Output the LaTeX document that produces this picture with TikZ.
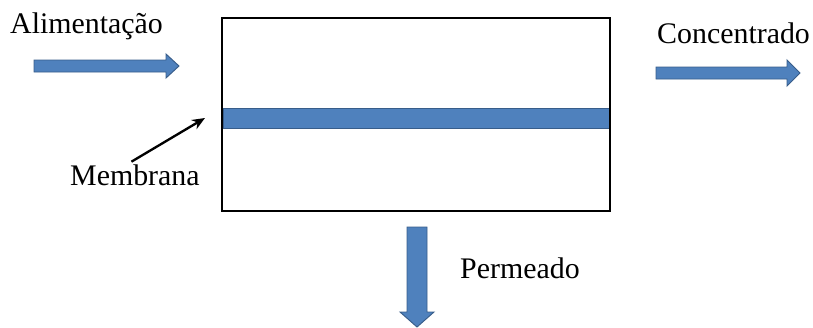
\documentclass[tikz,border=0pt]{standalone}
\usepackage{fontspec}
\setmainfont{Liberation Serif}
\usetikzlibrary{arrows.meta,positioning}
\definecolor{azulmemb}{HTML}{4F81BD}
\definecolor{bordamemb}{HTML}{385D8A}
\tikzset{
  rotulo/.style={inner sep=0pt,anchor=base west,font=\fontsize{25.5}{30}\selectfont},
  fluxo/.style={fill=azulmemb,draw=bordamemb,line width=0.8pt,line join=miter}
}
\begin{document}
\begin{tikzpicture}[x=0.03cm,y=-0.03cm]
\useasboundingbox (0,0) rectangle (813,327);
% membrana e modulo
\node[fluxo,minimum width=11.61cm,minimum height=0.6cm,inner sep=0pt] (membrana) at (416.5,118.5){};
\node[draw=black,line width=1.6pt,minimum width=11.64cm,minimum height=5.79cm,inner sep=0pt] (modulo) at (416,114.5){};
% setas de fluxo
\draw[fluxo] (34,60) -- (166,60) -- (166,54) -- (179,66) -- (166,78) -- (166,72) -- (34,72) -- cycle;
\draw[fluxo] (656,67) -- (787,67) -- (787,60) -- (800,73) -- (787,86) -- (787,79) -- (656,79) -- cycle;
\draw[fluxo] (407,227) -- (427,227) -- (427,312) -- (434,312) -- (417,327) -- (400,312) -- (407,312) -- cycle;
% rotulos
\node[rotulo] (alim) at (10,33){Alimenta\c{c}\~ao};
\node[rotulo] (conc) at (657,43){Concentrado};
\node[rotulo] (txtmemb) at (70,185){Membrana};
\node[rotulo] (perm) at (460,278){Permeado};
\coordinate (pontamemb) at (205,118);
\draw[-{Stealth[length=11pt,width=9pt]},line width=2pt] ([xshift=-3pt,yshift=2pt]txtmemb.north) -- (pontamemb);
\end{tikzpicture}
\end{document}
